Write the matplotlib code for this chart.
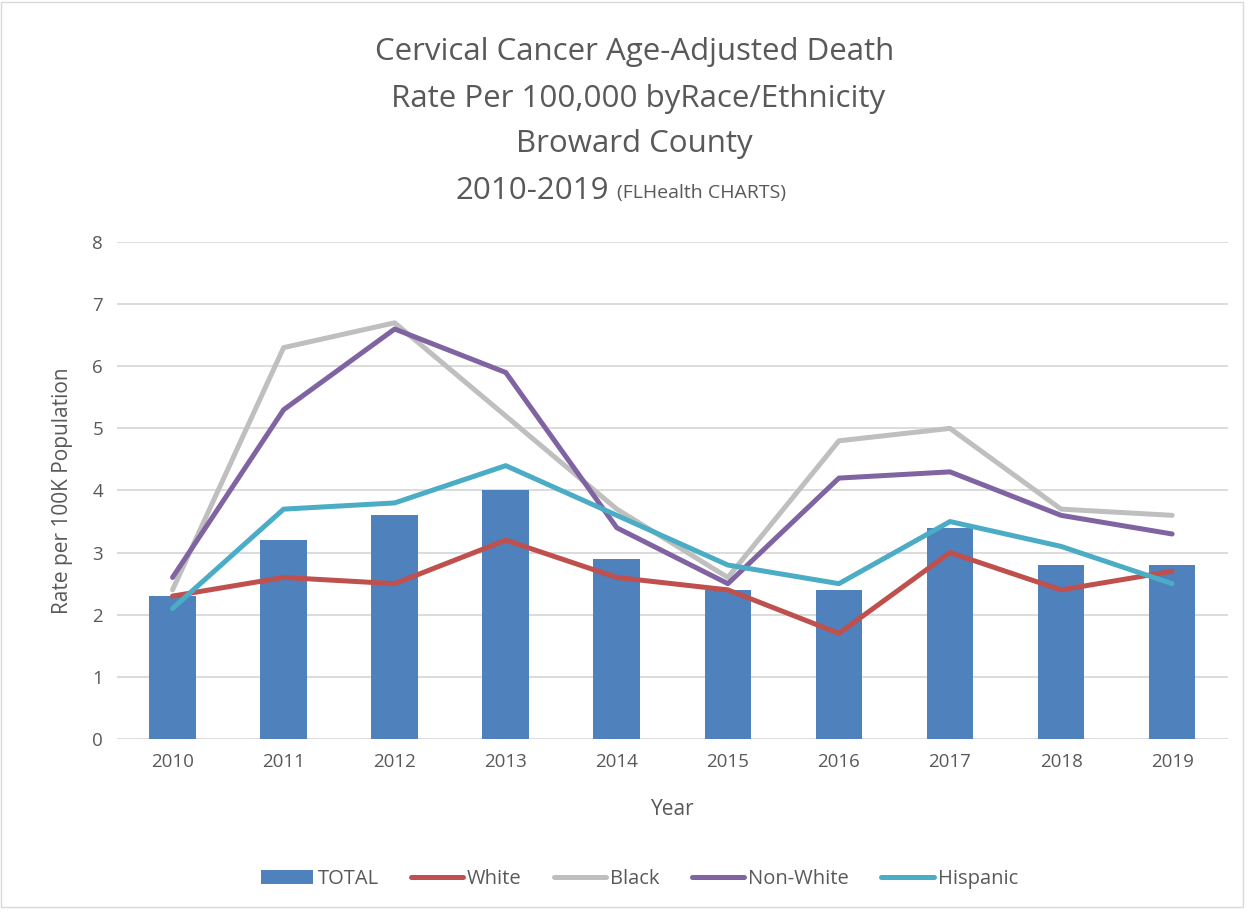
import numpy as np
import matplotlib.pyplot as plt
from matplotlib.patches import Rectangle

plt.rcParams['font.family'] = ['Open Sans', 'DejaVu Sans']

years = ['2010', '2011', '2012', '2013', '2014', '2015', '2016', '2017', '2018', '2019']
total = [2.3, 3.2, 3.6, 4.0, 2.9, 2.4, 2.4, 3.4, 2.8, 2.8]
white = [2.3, 2.6, 2.5, 3.2, 2.6, 2.4, 1.7, 3.0, 2.4, 2.7]
black = [2.4, 6.3, 6.7, 5.2, 3.7, 2.6, 4.8, 5.0, 3.7, 3.6]
non_white = [2.6, 5.3, 6.6, 5.9, 3.4, 2.5, 4.2, 4.3, 3.6, 3.3]
hispanic = [2.1, 3.7, 3.8, 4.4, 3.6, 2.8, 2.5, 3.5, 3.1, 2.5]

txt = '#595959'
fig = plt.figure(figsize=(12.54, 9.14), dpi=100)
ax = fig.add_axes([0.0933, 0.1915, 0.8857, 0.5437])

x = np.arange(len(years))
bars = ax.bar(x, total, width=0.42, color='#4F81BD', label='TOTAL', zorder=2)
lw = 3.6
l1, = ax.plot(x, white, color='#C0504D', lw=lw, label='White', zorder=3, solid_capstyle='round')
l2, = ax.plot(x, black, color='#BFBFBF', lw=lw, label='Black', zorder=3, solid_capstyle='round')
l3, = ax.plot(x, non_white, color='#8064A2', lw=lw, label='Non-White', zorder=3, solid_capstyle='round')
l4, = ax.plot(x, hispanic, color='#4BACC6', lw=lw, label='Hispanic', zorder=3, solid_capstyle='round')

ax.set_xlim(-0.5, 9.5)
ax.set_ylim(0, 8)
ax.set_yticks(range(0, 9))
ax.set_xticks(x)
ax.set_xticklabels(years)
ax.grid(axis='y', color='#D9D9D9', lw=1.3, zorder=0)
for s in ax.spines.values():
    s.set_visible(False)
ax.tick_params(length=0, labelsize=13.5, colors=txt, pad=10)
ax.set_xlabel('Year', fontsize=15, color=txt, labelpad=20)
ax.set_ylabel('Rate per 100K Population', fontsize=15, color=txt, labelpad=14)

fs = 22.5
fig.text(0.506, 0.943, 'Cervical Cancer Age-Adjusted Death', ha='center', va='center', fontsize=fs, color=txt)
fig.text(0.506, 0.892, ' Rate Per 100,000 byRace/Ethnicity', ha='center', va='center', fontsize=fs, color=txt)
fig.text(0.506, 0.842, 'Broward County', ha='center', va='center', fontsize=fs, color=txt)
fig.text(0.486, 0.791, '2010-2019', ha='right', va='center', fontsize=fs, color=txt)
fig.text(0.492, 0.789, '(FLHealth CHARTS)', ha='left', va='center', fontsize=14, color=txt)

leg = fig.legend([bars, l1, l2, l3, l4], ['TOTAL', 'White', 'Black', 'Non-White', 'Hispanic'],
                 loc='center', bbox_to_anchor=(0.51, 0.038), ncol=5, frameon=False,
                 fontsize=14.5, handlelength=2.6, handletextpad=0.2, columnspacing=1.6)
for t in leg.get_texts():
    t.set_color(txt)

fig.patches.append(Rectangle((0.001, 0.008), 0.99, 0.99, transform=fig.transFigure,
                             fill=False, edgecolor='#D9D9D9', lw=1))

fig.savefig('out.png', dpi=100)
